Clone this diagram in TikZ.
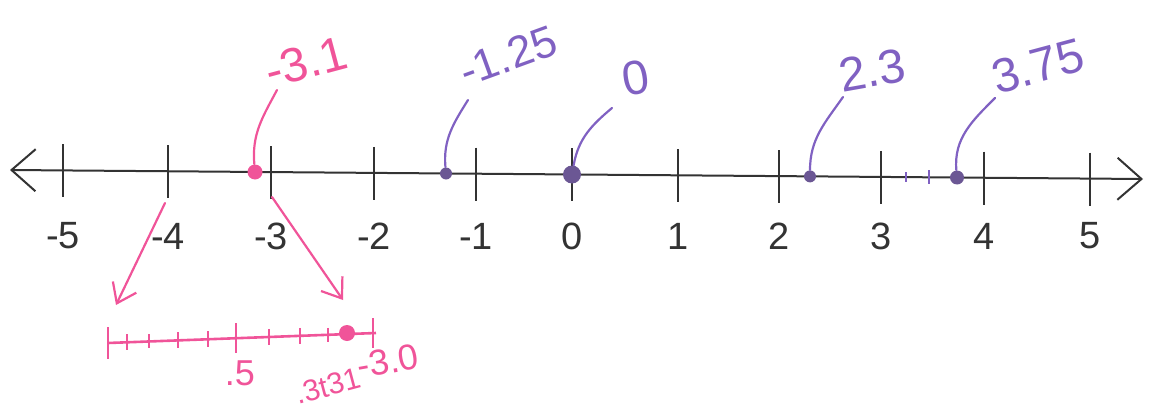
\documentclass[tikz,border=0pt]{standalone}
\usepackage{fontspec}
\setmainfont{Liberation Sans}
\usetikzlibrary{arrows.meta}
\definecolor{mypink}{rgb}{0.94,0.33,0.6}
\definecolor{mypurple}{rgb}{0.50,0.38,0.76}
\definecolor{mydot}{rgb}{0.42,0.34,0.58}
\definecolor{myink}{rgb}{0.2,0.2,0.2}

\begin{document}
\begin{tikzpicture}[x=0.5pt,y=0.5pt,
  numlab/.style={font=\fontsize{19}{22}\selectfont,text=myink},
  hand/.style={font=\fontsize{24}{28}\selectfont},
  smallhand/.style={font=\fontsize{15}{18}\selectfont,text=mypink},
  dot/.style={circle,fill,inner sep=0pt,minimum size=#1},
  lead/.style={line width=1.1pt,line cap=round}]
  \useasboundingbox (0,0) rectangle (1151,-412);
  % the number line from -5 to 5
  \coordinate (lend) at (10,-170);
  \coordinate (rend) at (1143,-179);
  \draw[myink,line width=1pt,
        {Straight Barb[length=12pt,width=21pt]}-{Straight Barb[length=12pt,width=21pt]}]
        (lend) -- (rend);
  \foreach \x/\n in {63/-5,168/-4,271/-3,374/-2,476/-1,572/0,678/1,779/2,881/3,984/4,1090/5}{
    \pgfmathsetmacro\ty{-170-(\x-10)*9/1133}
    \draw[myink,line width=1.1pt] (\x,\ty+26) -- (\x,\ty-27);
    \node[numlab] (n\n) at (\x,-236) {\n};
  }
  % marked points
  \node[dot=7.5pt,mypink] (p1) at (255,-172) {};
  \node[dot=6pt,mydot] (p2) at (446,-173.5) {};
  \node[dot=9pt,mydot] (p3) at (572,-174.5) {};
  \node[dot=6pt,mydot] (p4) at (810,-176.4) {};
  \node[dot=7pt,mydot] (p5) at (957,-177.5) {};
  \draw[mypurple,line width=1.2pt] (906,-172) -- (906,-182);
  \draw[mypurple,line width=1.2pt] (929,-170) -- (929,-184);
  % handwritten values and their leaders
  \node[hand,text=mypink,rotate=15] (l1) at (306,-62) {-3.1};
  \node[hand,font=\fontsize{22}{26}\selectfont,text=mypurple,rotate=20] (l2) at (508,-56) {-1.25};
  \node[hand,text=mypurple,rotate=10] (l3) at (636,-78) {0};
  \node[hand,text=mypurple,rotate=10] (l4) at (872,-70) {2.3};
  \node[hand,text=mypurple,rotate=15] (l5) at (1038,-66) {3.75};
  \coordinate (c1) at (277,-90);
  \coordinate (c2) at (468,-100);
  \coordinate (c3) at (612,-108);
  \coordinate (c4) at (843,-97);
  \coordinate (c5) at (995,-98);
  \draw[lead,mypink] (c1) to[out=-118,in=95] (p1);
  \draw[lead,mypurple] (c2) to[out=-122,in=95] (p2);
  \draw[lead,mypurple] (c3) to[out=-140,in=80] (p3);
  \draw[lead,mypurple] (c4) to[out=-125,in=90] (p4);
  \draw[lead,mypurple] (c5) to[out=-135,in=95] (p5);
  % zoom into the interval from -4 to -3
  \coordinate (a1) at (165,-203);
  \coordinate (s0) at (108,-343);
  \coordinate (s1) at (376,-333);
  \coordinate (a2) at (272,-197);
  \draw[lead,mypink,-{Straight Barb[length=9pt,width=13pt]}] (a1) -- (116,-305);
  \draw[lead,mypink,-{Straight Barb[length=9pt,width=13pt]}] (a2) -- (343,-300);
  \draw[mypink,line width=1.3pt] (s0) -- (s1);
  \foreach \x/\h in {108/16,127/8,149/7,178/8,208/8,236/15,269/8,300/8,328/7,373/15}{
    \pgfmathsetmacro\ty{-343+(\x-108)*10/268}
    \draw[mypink,line width=1.3pt] (\x,\ty+\h) -- (\x,\ty-\h);
  }
  \node[dot=8pt,mypink] (q1) at (347,-333) {};
  \node[smallhand,font=\fontsize{18}{20}\selectfont] (m1) at (240,-373) {.5};
  \node[smallhand,rotate=15] (m2) at (328,-386) {.3t31};
  \node[smallhand,font=\fontsize{18}{20}\selectfont,rotate=10] (m3) at (388,-361) {-3.0};
\end{tikzpicture}
\end{document}
